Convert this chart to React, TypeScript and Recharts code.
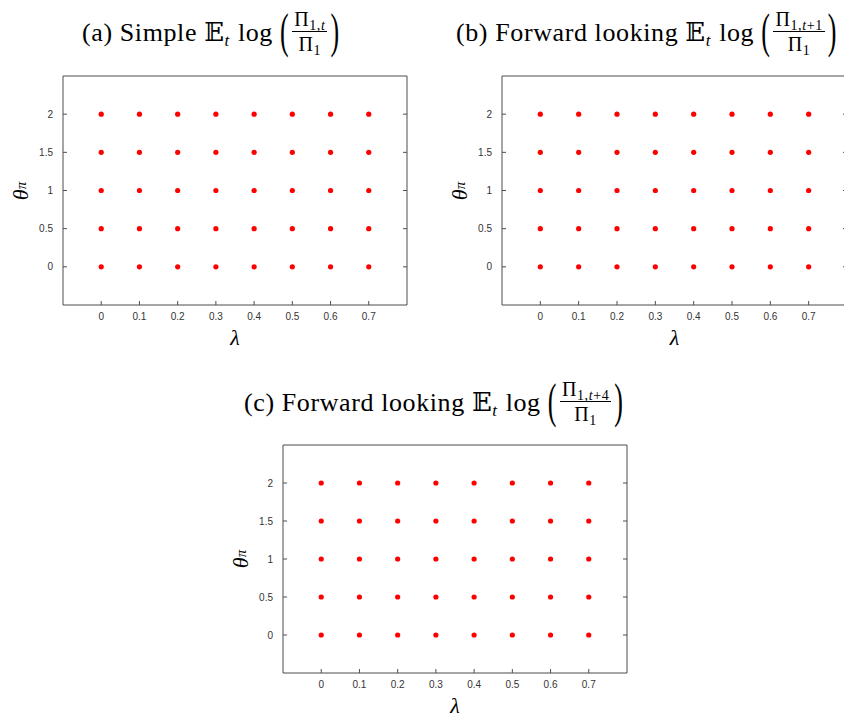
import React from "react"
import { ScatterChart, Scatter, XAxis, YAxis } from "recharts"

// grid of parameter values tried in every panel
const lambdaValues = [0, 0.1, 0.2, 0.3, 0.4, 0.5, 0.6, 0.7]
const thetaValues = [0, 0.5, 1, 1.5, 2]
const lambdaDomain = [-0.1, 0.8]
const thetaDomain = [-0.5, 2.5]

const panelTags = ["(a) Simple", "(b) Forward looking", "(c) Forward looking"]
const panelSubscripts = ["1,t", "1,t+1", "1,t+4"]

const gridPoints = lambdaValues.flatMap((lambda) => thetaValues.map((theta) => ({ lambda, theta })))

const SERIF = "'Liberation Serif', 'DejaVu Serif', serif"
const SANS = "'Liberation Sans', Arial, sans-serif"
const AXIS = "#4d4d4d"
const TICK_TEXT = "#333"
const TICK_LEN = 4

// plot-area boxes (page pixels) and title anchors
const layout = [
  { left: 63, top: 76, w: 344, h: 229, titleLeft: 82, titleY: 32 },
  { left: 502, top: 76, w: 345, h: 229, titleLeft: 456, titleY: 32 },
  { left: 283, top: 445, w: 344, h: 228, titleLeft: 244, titleY: 402 },
]

function Sub({ text, size }: { text: string; size: number }) {
  const parts = text.split("t")
  return (
    <span style={{ fontSize: size, verticalAlign: "-0.3em", lineHeight: 0 }}>
      {parts.map((p, i) => (
        <React.Fragment key={i}>
          {p}
          {i < parts.length - 1 && <i>t</i>}
        </React.Fragment>
      ))}
    </span>
  )
}

function Title({ left, centerY, tag, sub }: { left: number; centerY: number; tag: string; sub: string }) {
  const paren = { display: "inline-block", transform: "scaleY(1.9)", fontSize: 26, fontWeight: 300 }
  return (
    <div
      style={{
        position: "absolute",
        left,
        top: centerY - 30,
        height: 60,
        display: "flex",
        alignItems: "center",
        fontFamily: SERIF,
        fontSize: 26,
        letterSpacing: 0.6,
        color: "#000",
        whiteSpace: "nowrap",
      }}
    >
      <span>
        {tag}&nbsp;𝔼
        <span style={{ fontSize: 17, fontStyle: "italic", verticalAlign: "-0.3em", lineHeight: 0 }}>t</span>
        <span style={{ marginLeft: 8, marginRight: 7 }}>log</span>
      </span>
      <span style={paren}>(</span>
      <span style={{ display: "inline-flex", flexDirection: "column", alignItems: "center", margin: "0 3px" }}>
        <span style={{ fontSize: 20, lineHeight: "19px", padding: "0 2px 2px", borderBottom: "1px solid #000" }}>
          Π<Sub text={sub} size={14} />
        </span>
        <span style={{ fontSize: 20, lineHeight: "19px", paddingTop: 3 }}>
          Π<Sub text="1" size={14} />
        </span>
      </span>
      <span style={paren}>)</span>
    </div>
  )
}

// tick renderers: labels outside, short tick marks pointing into the plot
function BottomTick(props: any) {
  const { x, y, payload } = props
  return (
    <g>
      <line x1={x} x2={x} y1={y} y2={y - TICK_LEN} stroke={AXIS} />
      <text x={x} y={y + 8} dy="0.71em" textAnchor="middle" fill={TICK_TEXT} fontSize={10} fontFamily={SANS}>
        {payload.value}
      </text>
    </g>
  )
}

function LeftTick(props: any) {
  const { x, y, payload } = props
  return (
    <g>
      <line x1={x} x2={x + TICK_LEN} y1={y} y2={y} stroke={AXIS} />
      <text x={x - 10} y={y} dy="0.355em" textAnchor="end" fill={TICK_TEXT} fontSize={10} fontFamily={SANS}>
        {payload.value}
      </text>
    </g>
  )
}

function TopTick(props: any) {
  const { x, y } = props
  return <line x1={x} x2={x} y1={y} y2={y + TICK_LEN} stroke={AXIS} />
}

function RightTick(props: any) {
  const { x, y } = props
  return <line x1={x} x2={x - TICK_LEN} y1={y} y2={y} stroke={AXIS} />
}

function Panel({ left, top, w, h }: { left: number; top: number; w: number; h: number }) {
  const ml = 60
  const mt = 10
  const mr = 10
  const mb = 40
  return (
    <>
      <div style={{ position: "absolute", left: left - ml, top: top - mt }}>
        <ScatterChart
          width={w + ml + mr}
          height={h + mt + mb}
          margin={{ top: mt - 1, right: mr - 1, bottom: 0, left: 0 }}
        >
          <XAxis
            xAxisId="b"
            dataKey="lambda"
            type="number"
            domain={lambdaDomain}
            ticks={lambdaValues}
            allowDataOverflow
            height={mb}
            tickSize={0}
            tickMargin={0}
            tickLine={false}
            stroke={AXIS}
            tick={<BottomTick />}
          />
          <XAxis
            xAxisId="t"
            type="number"
            orientation="top"
            domain={lambdaDomain}
            ticks={lambdaValues}
            allowDataOverflow
            height={1}
            tickSize={0}
            tickMargin={0}
            tickLine={false}
            stroke={AXIS}
            tick={<TopTick />}
          />
          <YAxis
            yAxisId="l"
            dataKey="theta"
            type="number"
            domain={thetaDomain}
            ticks={thetaValues}
            allowDataOverflow
            width={ml}
            tickSize={0}
            tickMargin={0}
            tickLine={false}
            stroke={AXIS}
            tick={<LeftTick />}
          />
          <YAxis
            yAxisId="r"
            type="number"
            orientation="right"
            domain={thetaDomain}
            ticks={thetaValues}
            allowDataOverflow
            width={1}
            tickSize={0}
            tickMargin={0}
            tickLine={false}
            stroke={AXIS}
            tick={<RightTick />}
          />
          <Scatter
            xAxisId="b"
            yAxisId="l"
            data={gridPoints}
            isAnimationActive={false}
            shape={(p: any) => <circle cx={p.cx} cy={p.cy} r={2.6} fill="#ff0000" />}
          />
        </ScatterChart>
      </div>
      {/* axis labels */}
      <div
        style={{
          position: "absolute",
          left: left + w / 2 - 20,
          top: top + h + 21,
          width: 40,
          height: 24,
          textAlign: "center",
          fontFamily: SERIF,
          fontStyle: "italic",
          fontSize: 22,
          lineHeight: "24px",
        }}
      >
        λ
      </div>
      <div
        style={{
          position: "absolute",
          left: left - 42 - 30,
          top: top + h / 2 - 15,
          width: 60,
          height: 30,
          display: "flex",
          alignItems: "center",
          justifyContent: "center",
          transform: "rotate(-90deg)",
          fontFamily: SERIF,
          fontStyle: "italic",
          fontSize: 22,
        }}
      >
        θ<span style={{ fontSize: 15, verticalAlign: "-0.4em", lineHeight: 0 }}>π</span>
      </div>
    </>
  )
}

export default function App() {
  return (
    <div
      style={{
        position: "absolute",
        left: 0,
        top: 0,
        width: 844,
        height: 717,
        overflow: "hidden",
        background: "#fff",
      }}
    >
      {layout.map((p, i) => (
        <React.Fragment key={i}>
          <Title left={p.titleLeft} centerY={p.titleY} tag={panelTags[i]} sub={panelSubscripts[i]} />
          <Panel left={p.left} top={p.top} w={p.w} h={p.h} />
        </React.Fragment>
      ))}
    </div>
  )
}
